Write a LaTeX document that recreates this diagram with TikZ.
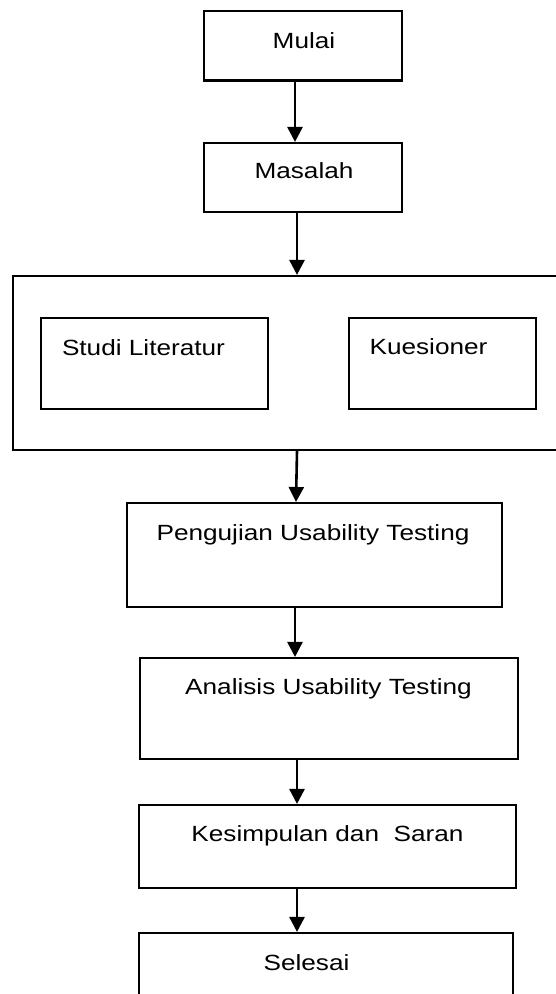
\documentclass[tikz,border=0pt]{standalone}
\usepackage{fontspec}
\setmainfont{Liberation Sans}[FakeStretch=1.19]
\usetikzlibrary{arrows.meta}
\begin{document}
\begin{tikzpicture}[x=1pt,y=-1pt,
  box/.style={draw=black, line width=2.1pt, rectangle, inner sep=0pt, fill=none},
  inbox/.style={draw=black, line width=1.8pt, rectangle, inner sep=0pt},
  lbl/.style={anchor=base, inner sep=0pt, font=\fontsize{22}{26}\selectfont},
  arr/.style={line width=2.6pt, -{Triangle[length=15pt,width=15pt]}}]
\useasboundingbox (0,0) rectangle (556,994);
\clip (0,0) rectangle (556,994);
\fill[white] (0,0) rectangle (556,994);
% boxes
\node[box, minimum width=198pt, minimum height=69.5pt] (mulai) at (303,45.75) {};
\node[box, minimum width=198pt, minimum height=69pt] (masalah) at (303,177.5) {};
\node[box, minimum width=549pt, minimum height=174pt] (big) at (287.5,363) {};
\node[inbox, minimum width=227pt, minimum height=91pt] (studi) at (154.5,363.5) {};
\node[inbox, minimum width=187pt, minimum height=91pt] (kues) at (442.5,363.5) {};
\node[box, minimum width=375pt, minimum height=104pt] (peng) at (314.5,555) {};
\node[box, minimum width=378pt, minimum height=101pt] (anal) at (329,708.5) {};
\node[box, minimum width=377pt, minimum height=83pt] (kesi) at (327.5,846.5) {};
\node[box, minimum width=374pt, minimum height=67pt] (sele) at (326,966.5) {};
% labels
\node[lbl] (tmulai) at (304,48) {Mulai};
\node[lbl] (tmasalah) at (304,178) {Masalah};
\node[lbl] (tstudi) at (143.5,355) {Studi Literatur};
\node[lbl] (tkues) at (428.5,354) {Kuesioner};
\node[lbl] (tpeng) at (313,540) {Pengujian Usability Testing};
\node[lbl] (tanal) at (328.5,694) {Analisis Usability Testing};
\node[lbl] (tkesi) at (327.5,841) {Kesimpulan dan\ \ Saran};
\node[lbl] (tsele) at (306.5,970) {Selesai};
% arrows
\draw[arr] (mulai.south -| 295,0) -- (masalah.north -| 295,0);
\draw[arr] (masalah.south -| 297,0) -- (big.north -| 297,0);
\draw[arr] (big.south -| 297,0) -- (peng.north -| 296,0);
\draw[arr] (peng.south -| 295,0) -- (anal.north -| 295,0);
\draw[arr] (anal.south -| 297,0) -- (kesi.north -| 297,0);
\draw[arr] (kesi.south -| 297,0) -- (sele.north -| 297,0);
\end{tikzpicture}
\end{document}
